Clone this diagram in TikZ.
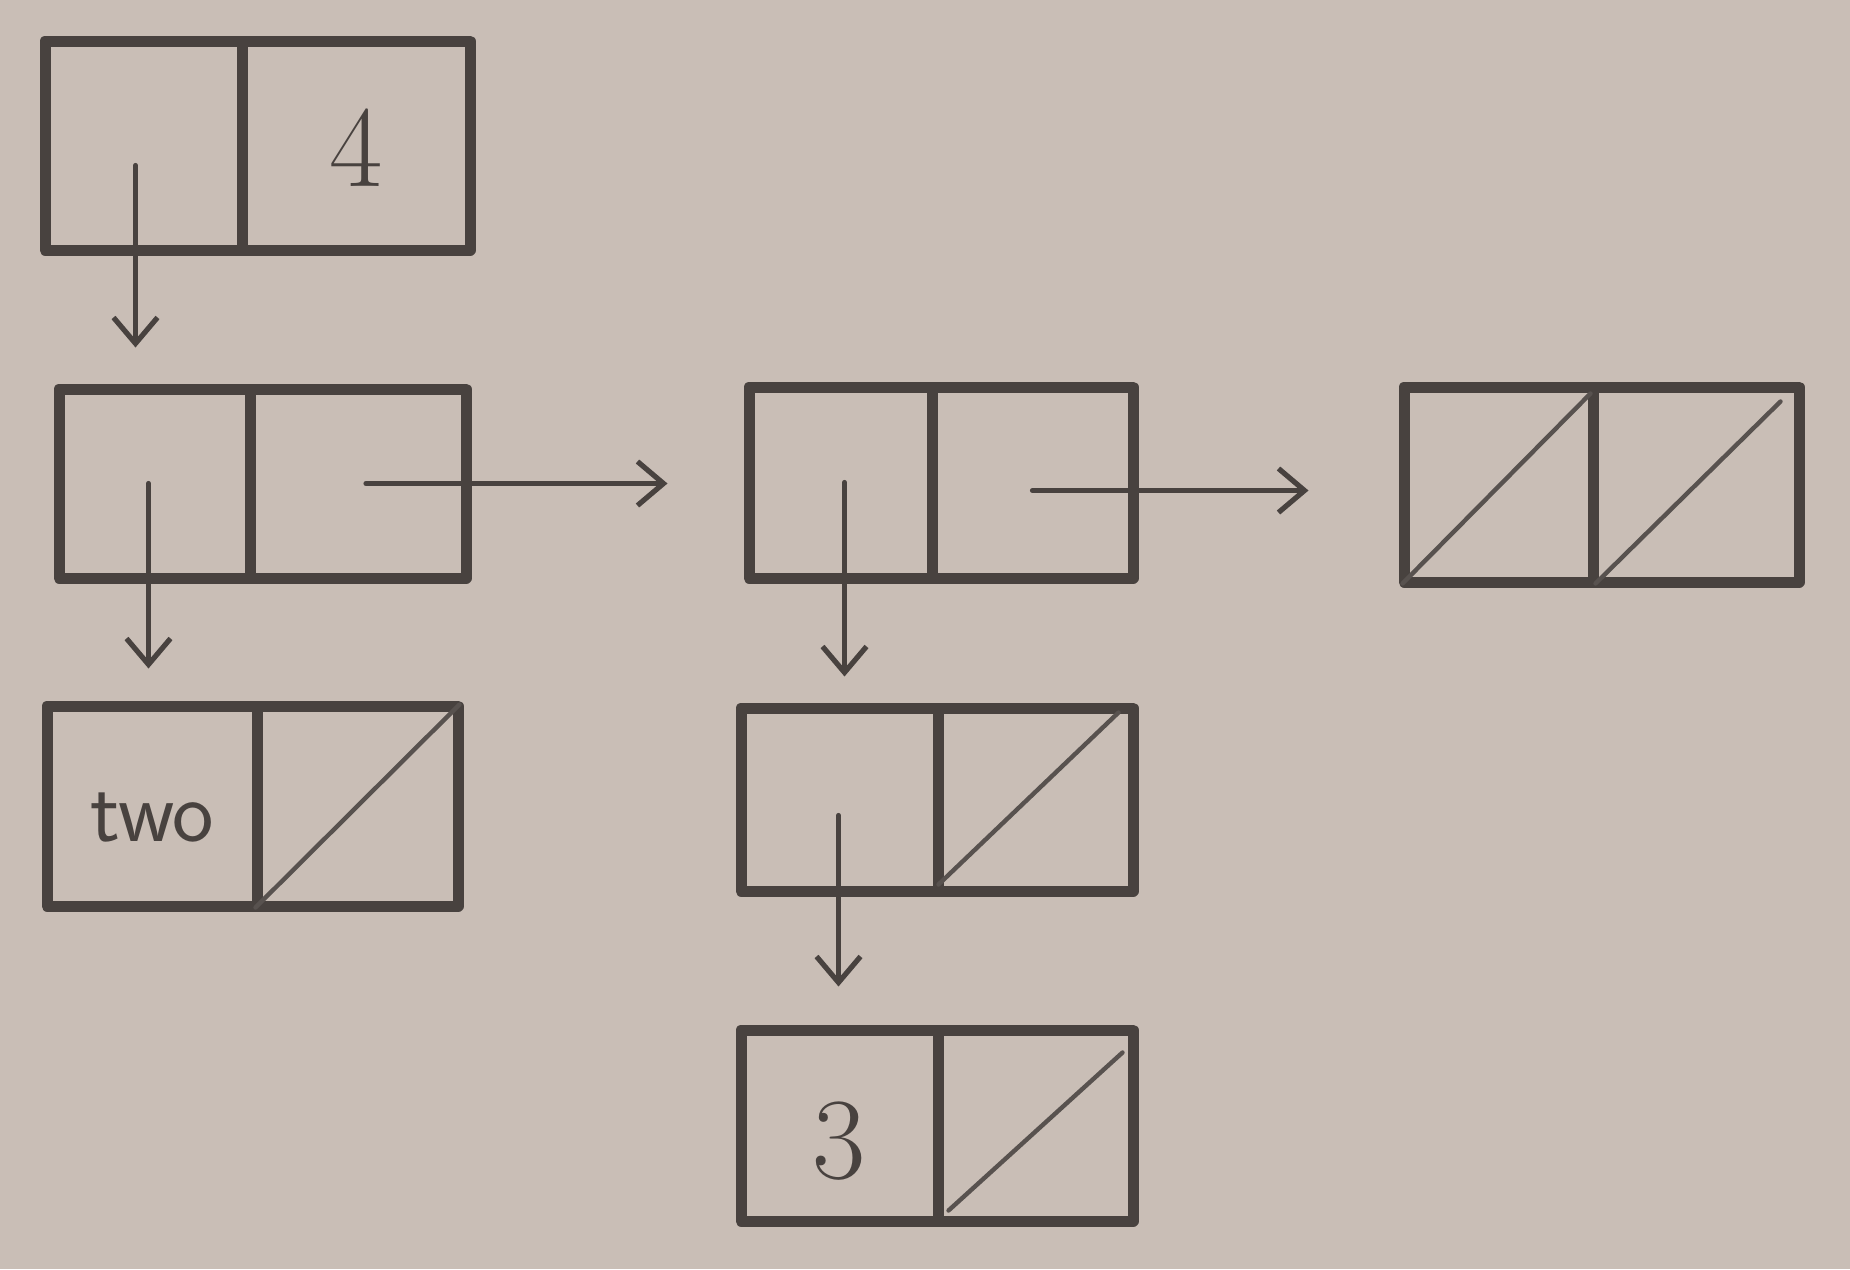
\documentclass[tikz,border=0pt]{standalone}
\usetikzlibrary{arrows.meta,fit}
\definecolor{paper}{RGB}{201,190,182}
\definecolor{ink}{RGB}{72,66,63}
\definecolor{lead}{RGB}{88,82,79}
\tikzset{
  cell/.style={draw=ink, line width=5.5pt, inner sep=0pt, line join=round, text=ink},
  ptr/.style={draw=ink, line width=2.6pt, line cap=round, -{Straight Barb[length=13pt,width=22pt,line width=2.6pt]}},
  diag/.style={draw=lead, line width=2.2pt, line cap=round},
  numtxt/.style={font=\fontsize{58}{58}\selectfont, text=ink, inner sep=0pt},
  wordtxt/.style={font=\sffamily\fontsize{44}{44}\selectfont, text=ink, inner sep=0pt}
}
\begin{document}
\begin{tikzpicture}[x=0.5pt,y=-0.5pt]
\fill[paper] (0,0) rectangle (1850,1269);
\useasboundingbox (0,0) rectangle (1850,1269);
% box A
\node[cell, fit={(45,41) (242,250)}] (a1) {};
\node[cell, fit={(242,41) (470,250)}, label={[numtxt, yshift=-1pt]center:4}] (a2) {};
% box B
\node[cell, fit={(59,389) (250,578)}] (b1) {};
\node[cell, fit={(250,389) (466,578)}] (b2) {};
% box C
\node[cell, fit={(47,706) (257,906)}, label={[wordtxt, yshift=-6pt]center:two}] (c1) {};
\node[cell, fit={(257,706) (458,906)}] (c2) {};
% box D
\node[cell, fit={(749,387) (932,578)}] (d1) {};
\node[cell, fit={(932,387) (1133,578)}] (d2) {};
% box E
\node[cell, fit={(1404,387) (1593,582)}] (e1) {};
\node[cell, fit={(1593,387) (1799,582)}] (e2) {};
% box F
\node[cell, fit={(741,708) (938,891)}] (f1) {};
\node[cell, fit={(938,708) (1133,891)}] (f2) {};
% box G
\node[cell, fit={(741,1030) (938,1221)}, label={[numtxt, yshift=-8pt]center:3}] (g1) {};
\node[cell, fit={(938,1030) (1133,1221)}] (g2) {};
% null diagonals
\draw[diag] ([shift={(2pt,2pt)}]c2.south west) -- ([shift={(-2pt,-2pt)}]c2.north east);
\draw[diag] ([shift={(2pt,2pt)}]e1.south west) -- ([shift={(-4pt,-6pt)}]e1.north east);
\draw[diag] ([shift={(4pt,2pt)}]e2.south west) -- ([shift={(-12pt,-10pt)}]e2.north east);
\draw[diag] ([shift={(3pt,6pt)}]f2.south west) -- ([shift={(-10pt,-5pt)}]f2.north east);
\draw[diag] ([shift={(8pt,8pt)}]g2.south west) -- ([shift={(-8pt,-14pt)}]g2.north east);
% pointers
\draw[ptr, shorten >=18pt] ([xshift=-4pt,yshift=-10pt]a1.center) -- ([xshift=-4pt]a1.center |- b1.north);
\draw[ptr, shorten >=16pt] ([xshift=-3pt]b1.center) -- ([xshift=-3pt]b1.center |- c1.north);
\draw[ptr, shorten >=42pt] ([xshift=4pt]b2.center) -- ([xshift=4pt]b2.center -| d1.west);
\draw[ptr, shorten >=13pt] ([xshift=2pt]d1.center) -- ([xshift=2pt]d1.center |- f1.north);
\draw[ptr, shorten >=45pt] ([yshift=-4pt]d2.center) -- ([yshift=-4pt]d2.center -| e1.west);
\draw[ptr, shorten >=19pt] ([xshift=-0.5pt,yshift=-8pt]f1.center) -- ([xshift=-0.5pt]f1.center |- g1.north);
\end{tikzpicture}
\end{document}
